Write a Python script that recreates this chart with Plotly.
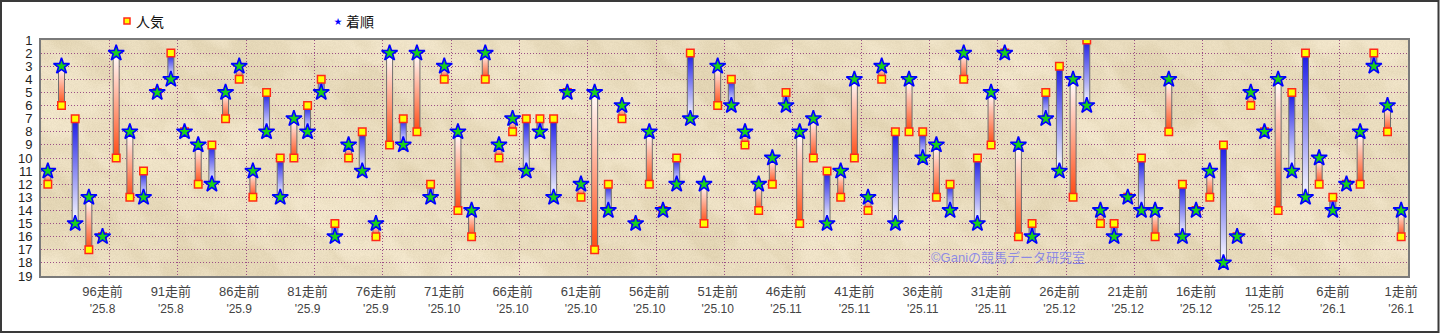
import base64
import struct
import zlib

import numpy as np
import plotly.graph_objects as go

# Races from 100走前 (oldest, left) to 1走前 (latest, right)
race_no = list(range(100, 0, -1))

# 人気 (popularity rank) per race
ninki = [12, 6, 7, 17, 16, 10, 13, 11, 5, 2,
         8, 12, 9, 7, 4, 13, 5, 10, 10, 6,
         4, 15, 10, 8, 16, 9, 7, 8, 12, 4,
         14, 16, 4, 10, 8, 7, 7, 7, 5, 13,
         17, 12, 7, 15, 12, 14, 10, 2, 15, 6,
         4, 9, 14, 12, 5, 15, 10, 11, 13, 10,
         14, 4, 8, 8, 8, 13, 12, 4, 10, 9,
         2, 16, 15, 5, 3, 13, 1, 15, 15, 13,
         10, 16, 8, 12, 14, 13, 9, 16, 6, 8,
         14, 5, 2, 12, 13, 12, 12, 2, 8, 16]

# 着順 (finishing position) per race
chakujun = [11, 3, 15, 13, 16, 2, 8, 13, 5, 4,
            8, 9, 12, 5, 3, 11, 8, 13, 7, 8,
            5, 16, 9, 11, 15, 2, 9, 2, 13, 3,
            8, 14, 2, 9, 7, 11, 8, 13, 5, 12,
            5, 14, 6, 15, 8, 14, 12, 7, 12, 3,
            6, 8, 12, 10, 6, 8, 7, 15, 11, 4,
            13, 3, 15, 4, 10, 9, 14, 2, 15, 5,
            2, 9, 16, 7, 11, 4, 6, 14, 16, 13,
            14, 14, 4, 16, 14, 11, 18, 16, 5, 8,
            4, 11, 13, 10, 14, 12, 8, 3, 6, 14]

# Axis labels every 5 races, with the month of the race
tick_races = [96, 91, 86, 81, 76, 71, 66, 61, 56, 51,
              46, 41, 36, 31, 26, 21, 16, 11, 6, 1]
tick_months = ["'25.8", "'25.8", "'25.9", "'25.9", "'25.9", "'25.10", "'25.10", "'25.10", "'25.10", "'25.10",
               "'25.11", "'25.11", "'25.11", "'25.11", "'25.12", "'25.12", "'25.12", "'25.12", "'26.1", "'26.1"]

FONT = "Liberation Sans, Noto Sans CJK JP, sans-serif"
GRID = "#9c4f86"
BLUE_END = "#1a1ae6"
RED_END = "#ff4a12"
HALF_W = 0.22

W, H = 1440, 333
L, R, T, B = 41, 32, 40, 57
pw, ph = W - L - R, H - T - B


def px(x):
    return (x - L) / pw


def py(y):
    return (H - B - y) / ph


def parchment(w, h):
    """Soft mottled paper texture for the plotting area, as a PNG data URI."""
    yy, xx = np.mgrid[0:h, 0:w].astype(float)
    waves = [(0.011, 0.023, 0.3, 1.0), (0.029, -0.019, 1.7, 0.8),
             (-0.043, 0.061, 2.9, 0.6), (0.079, 0.067, 0.8, 0.45),
             (0.13, -0.14, 4.1, 0.3), (-0.23, 0.19, 5.3, 0.2)]
    n = np.zeros((h, w))
    for fx, fy, phs, a in waves:
        n += a * np.sin(fx * xx + fy * yy + phs)
    cloud = np.sin(0.9 * n) * np.cos(0.013 * xx - 0.031 * yy + 1.2 * n)
    # fine grain from an integer hash of the pixel position
    grain = (((xx.astype(np.int64) * 73856093) ^ (yy.astype(np.int64) * 19349663)) % 97) / 97.0 - 0.5
    base = np.array([234.0, 221.0, 191.0])
    spread = np.array([7.0, 8.0, 11.0])
    rgb = base + cloud[..., None] * spread + grain[..., None] * 7.0
    rgb = np.clip(rgb, 0, 255).astype(np.uint8)
    raw = b"".join(b"\x00" + rgb[r].tobytes() for r in range(h))

    def chunk(tag, data):
        return (struct.pack(">I", len(data)) + tag + data
                + struct.pack(">I", zlib.crc32(tag + data) & 0xFFFFFFFF))

    png = (b"\x89PNG\r\n\x1a\n"
           + chunk(b"IHDR", struct.pack(">IIBBBBB", w, h, 8, 2, 0, 0, 0))
           + chunk(b"IDAT", zlib.compress(raw, 9))
           + chunk(b"IEND", b""))
    return "data:image/png;base64," + base64.b64encode(png).decode()


xpos = list(range(len(race_no)))

fig = go.Figure()

# Gradient bars joining popularity and finish
for i, (p, f) in enumerate(zip(ninki, chakujun)):
    if p == f:
        continue
    top, bot = min(p, f), max(p, f)
    if f < p:   # finished better than popularity: white -> red toward the 人気 mark
        scale = [[0, "#ffffff"], [1, RED_END]]
    else:       # finished worse: blue at the 人気 mark fading to white
        scale = [[0, BLUE_END], [1, "#ffffff"]]
    fig.add_trace(go.Scatter(
        x=[i - HALF_W, i + HALF_W, i + HALF_W, i - HALF_W, i - HALF_W],
        y=[top, top, bot, bot, top],
        mode="lines", fill="toself",
        fillgradient=dict(type="vertical", colorscale=scale, start=top, stop=bot),
        line=dict(color="#6e6e6e", width=1),
        hoverinfo="skip", showlegend=False,
    ))

fig.add_trace(go.Scatter(
    x=xpos, y=ninki, mode="markers", name="人気",
    marker=dict(symbol="square", size=7.5, color="#ffff00",
                line=dict(color="#ff2a1a", width=1.5)),
    showlegend=False,
))
fig.add_trace(go.Scatter(
    x=xpos, y=chakujun, mode="markers", name="着順",
    marker=dict(symbol="star", size=12, color="#19d219",
                line=dict(color="#0000ff", width=1.6)),
    showlegend=False,
))

tickvals = [race_no.index(r) for r in tick_races]
ticktext = [f"{r}走前<br><span style='font-size:12px'>{m}</span>"
            for r, m in zip(tick_races, tick_months)]

fig.update_layout(
    width=W, height=H,
    margin=dict(l=L, r=R, t=T, b=B),
    paper_bgcolor="#ffffff",
    plot_bgcolor="#ebdcbc",
    font=dict(family=FONT, color="#333333"),
    showlegend=False,
    images=[dict(source=parchment(pw, ph), xref="paper", yref="paper",
                 x=0, y=1, sizex=1, sizey=1, sizing="stretch",
                 xanchor="left", yanchor="top", layer="below")],
    xaxis=dict(
        range=[-0.5, len(race_no) - 0.5],
        tickvals=tickvals, ticktext=ticktext,
        tickfont=dict(size=13, color="#444444"),
        ticks="outside", ticklen=2, tickcolor="rgba(0,0,0,0)",
        showgrid=False, zeroline=False,
        minor=dict(tickvals=[v + 0.5 for v in tickvals[:-1]],
                   showgrid=True, gridcolor=GRID, griddash="1px,2px", gridwidth=1,
                   ticks=""),
        showline=True, linecolor="#7a7a7a", linewidth=2, mirror=True,
    ),
    yaxis=dict(
        range=[19, 1], tickmode="array", tickvals=list(range(1, 20)),
        tickfont=dict(size=13, color="#222222"),
        ticks="outside", ticklen=4, tickcolor="rgba(0,0,0,0)",
        showgrid=True, gridcolor=GRID, griddash="1px,2px", gridwidth=1,
        zeroline=False,
        showline=True, linecolor="#7a7a7a", linewidth=2, mirror=True,
    ),
    shapes=[
        # outer frame of the image
        dict(type="rect", xref="paper", yref="paper",
             x0=px(1), x1=px(1438.5), y0=py(332), y1=py(1),
             line=dict(color="#3a3a3a", width=2), layer="above"),
        # legend key for 人気
        dict(type="rect", xref="paper", yref="paper",
             x0=px(124), x1=px(130), y0=py(24), y1=py(18),
             fillcolor="#ffff00", line=dict(color="#ff2a1a", width=1.5)),
    ],
    annotations=[
        dict(xref="paper", yref="paper", x=px(134), y=py(21.5),
             xanchor="left", yanchor="middle", showarrow=False,
             text="人気", font=dict(size=14, color="#111111")),
        dict(xref="paper", yref="paper", x=px(338), y=py(21),
             xanchor="center", yanchor="middle", showarrow=False,
             text="★", font=dict(size=8, color="#0000ff")),
        dict(xref="paper", yref="paper", x=px(344), y=py(21.5),
             xanchor="left", yanchor="middle", showarrow=False,
             text="着順", font=dict(size=14, color="#111111")),
        dict(xref="paper", yref="paper", x=px(929), y=py(257),
             xanchor="left", yanchor="middle", showarrow=False,
             text="©Ganiの競馬データ研究室",
             font=dict(size=13, color="rgba(110,110,240,0.75)")),
    ],
)

fig.write_html("out.html")
